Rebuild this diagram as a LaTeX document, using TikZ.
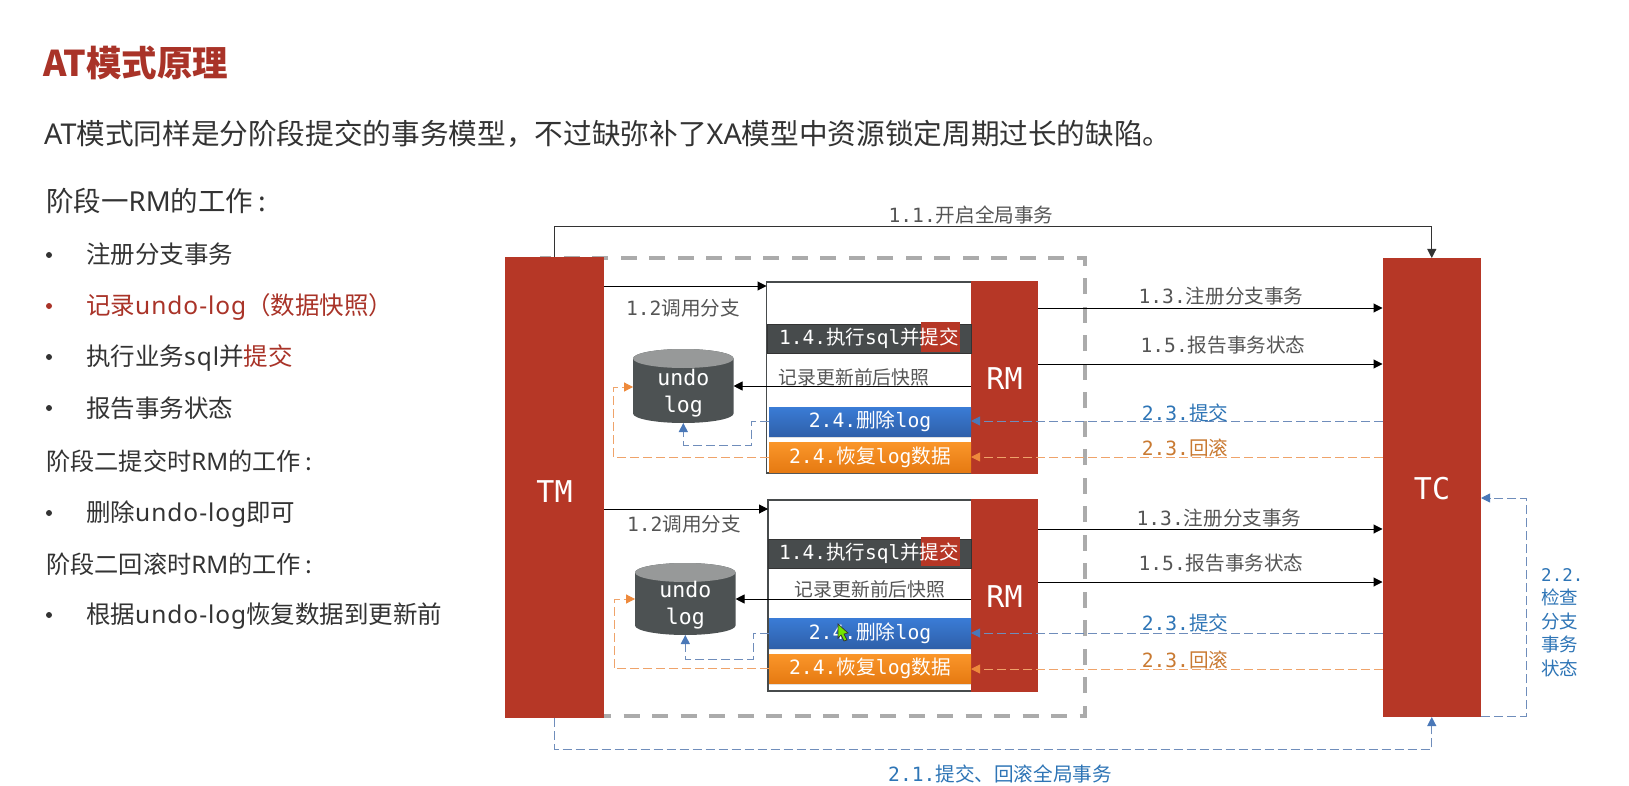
\documentclass[tikz,border=0pt]{standalone}
\usepackage{fontspec}
\setmainfont{Noto Sans CJK SC}
\newfontfamily\monof{DejaVu Sans Mono}
\newfontfamily\latf{Noto Sans}
\newfontfamily\latw[LetterSpace=4]{Noto Sans}
\usetikzlibrary{arrows.meta,calc,shapes.geometric,shadows}
\definecolor{brick}{HTML}{B63726}
\definecolor{titlered}{HTML}{A93328}
\definecolor{bodytxt}{HTML}{333333}
\definecolor{lbl}{HTML}{555555}
\definecolor{lblblue}{HTML}{2E75B6}
\definecolor{lblorange}{HTML}{C97A32}
\definecolor{dashblue}{HTML}{6F8DBB}
\definecolor{tipblue}{HTML}{4A78B8}
\definecolor{dashorange}{HTML}{EFA36A}
\definecolor{tiporange}{HTML}{EE8A3C}
\definecolor{darkbar}{HTML}{474B4C}
\definecolor{cylbody}{HTML}{4D5253}
\definecolor{cyltop}{HTML}{979999}
\definecolor{framegrey}{HTML}{ABABAB}
\definecolor{bluetop}{HTML}{3A7CD6}
\definecolor{bluebot}{HTML}{2F60AA}
\definecolor{orangetop}{HTML}{FA962A}
\definecolor{orangebot}{HTML}{E67A12}
\newcommand\M[1]{{\monof #1}}
\newcommand\Lt[1]{{\latf #1}}
\newcommand\Lw[1]{{\latw #1}}
\newcommand\fs[1]{\fontsize{#1}{#1}\selectfont}
% \bx{name}{x1}{y1}{x2}{y2}{style}{text}
\newcommand\bx[7]{\node[inner sep=0pt,outer sep=0pt,minimum width={(#4-#2)*1pt},minimum height={(#5-#3)*1pt},#6] (#1) at ({(#2+#4)/2},{(#3+#5)/2}) {#7};}
% cylinder painted over the invisible box node #1
\newcommand\cylpaint[1]{%
  \fill[cylbody] ($(#1.north west)+(0,9.5)$) -- ($(#1.south west)+(0,-9.5)$) arc[start angle=180,end angle=360,x radius=50.25pt,y radius=9.5pt] -- ($(#1.north east)+(0,9.5)$) arc[start angle=0,end angle=180,x radius=50.25pt,y radius=9.5pt] -- cycle;
  \fill[cyltop] ($(#1.north)+(0,9.5)$) ellipse[x radius=50.25pt,y radius=9.5pt];}
\tikzset{
  x=1pt,y=-1pt,
  headbig/.style={anchor=west,inner sep=0,text=bodytxt,font=\fs{27.5}},
  heading/.style={anchor=west,inner sep=0,text=bodytxt,font=\fs{24.2}},
  listitem/.style={anchor=west,inner sep=0,text=bodytxt,font=\fs{24.5}},
  bulletdot/.style={anchor=center,circle,fill=bodytxt,inner sep=0,minimum size=6pt},
  brickbox/.style={fill=brick,text=white,font=\fs{30}},
  servicebox/.style={draw=darkbar,line width=1.5pt,fill=white},
  darkbarbox/.style={fill=darkbar,draw=black!80,line width=1pt,text=white,font=\fs{19.5}},
  hilite/.style={fill=brick,text=white,font=\fs{19.5}},
  bluebar/.style={top color=bluetop,bottom color=bluebot,text=white,font=\fs{19.7},drop shadow={opacity=.25,shadow xshift=0pt,shadow yshift=-2pt}},
  orangebar/.style={top color=orangetop,bottom color=orangebot,text=white,font=\fs{19.7},drop shadow={opacity=.25,shadow xshift=0pt,shadow yshift=-2pt}},
  lbltext/.style={inner sep=0,text=lbl,font=\fs{19.6},yshift=-1pt},
  bluelabel/.style={lbltext,text=lblblue},
  orangelabel/.style={lbltext,text=lblorange},
  solidarrow/.style={draw=black,line width=1pt,-{Triangle[length=9pt,width=9pt]}},
  bluedash/.style={draw=dashblue,line width=1pt,dash pattern=on 9pt off 4pt,-{Triangle[length=9pt,width=9pt,color=tipblue,fill=tipblue]}},
  orangedash/.style={draw=dashorange,line width=1pt,dash pattern=on 9pt off 4pt,-{Triangle[length=9pt,width=9pt,color=tiporange,fill=tiporange]}},
  greyframe/.style={draw=framegrey,line width=3.5pt,dash pattern=on 16pt off 12.5pt},
  cylbox/.style={inner sep=0,outer sep=0,minimum width=100.5pt},
}
\begin{document}
\begin{tikzpicture}
\useasboundingbox (0,0) rectangle (1629,786);
\fill[white] (0,0) rectangle (1629,786);

% header text
\node[anchor=west,inner sep=0,text=titlered,font=\bfseries\fs{35.5}] (title) at (43,63) {AT模式原理};
\node[anchor=west,inner sep=0,text=bodytxt,font=\fs{28.65}] (intro) at (44,134) {\Lt{AT}模式同样是分阶段提交的事务模型，不过缺弥补了\Lt{XA}模型中资源锁定周期过长的缺陷。};

% left list
\node[headbig] (h1) at (46,201) {阶段一\Lt{RM}的工作\hspace{5pt}:};
\node[bulletdot] (d1) at (49,255) {}; \node[listitem] (t1) at (86,254) {注册分支事务};
\node[bulletdot,fill=titlered] (d2) at (49,306) {}; \node[listitem,text=titlered] (t2) at (86,307) {记录\Lw{undo-log}（数据快照）};
\node[bulletdot] (d3) at (49,357) {}; \node[listitem] (t3) at (86,358) {执行业务\Lw{sql}并\textcolor{titlered}{提交}};
\node[bulletdot] (d4) at (49,408) {}; \node[listitem] (t4) at (86,408) {报告事务状态};
\node[heading] (h2) at (46,461) {阶段二提交时\Lt{RM}的工作\hspace{5pt}:};
\node[bulletdot] (d5) at (49,513) {}; \node[listitem] (t5) at (86,514) {删除\Lw{undo-log}即可};
\node[heading] (h3) at (46,564) {阶段二回滚时\Lt{RM}的工作\hspace{5pt}:};
\node[bulletdot] (d6) at (49,615) {}; \node[listitem] (t6) at (86,616) {根据\Lw{undo-log}恢复数据到更新前};

% global dashed frame
\coordinate (fa) at (540,258);
\coordinate (fb) at (1085,716);
\draw[greyframe] (fa) rectangle (fb);

% TM / TC
\bx{TM}{505}{257}{604}{718}{brickbox}{}
\bx{TC}{1382.5}{258}{1481}{717}{brickbox}{}
\node[inner sep=0,text=white,font=\fs{30}] (tmtxt) at (554.5,492) {\M{TM}};
\node[inner sep=0,text=white,font=\fs{30}] (tctxt) at (1432,489) {\M{TC}};

% upper service
\bx{S1}{766.5}{282}{972}{473}{servicebox}{}
\bx{RM1}{971}{281}{1038}{474}{brickbox,text depth=0pt}{\raisebox{-2pt}{\M{RM}}}
\bx{D1}{767}{324}{971}{353}{darkbarbox}{}
\bx{H1}{920.5}{322}{960}{352}{hilite}{}
\node[inner sep=0,text=white,font=\fs{19.5},anchor=west] (D1t) at (779,338) {\M{1.4.}执行\M{sql}并提交};
\node[lbltext,font=\fs{18.8}] (rec1) at (854,376) {记录更新前后快照};
\bx{BB1}{769}{407}{971}{436}{bluebar}{\M{2.4.}删除\M{log}}
\bx{OB1}{769}{442}{971}{472}{orangebar}{\M{2.4.}恢复\M{log}数据}
\node[cylbox,minimum height=74pt] (C1) at (683.3,386) {};
\cylpaint{C1}
\node[inner sep=0,text=white,font=\fs{21.5},align=center] (C1t) at (683.3,393) {\M{undo}\\[6pt]\M{log}};

% lower service
\bx{S2}{768}{500}{972}{691}{servicebox}{}
\bx{RM2}{971}{499}{1038}{692}{brickbox,text depth=0pt}{\raisebox{-2pt}{\M{RM}}}
\bx{D2}{768}{539}{971}{568}{darkbarbox}{}
\bx{H2}{920.5}{537}{960}{566}{hilite}{}
\node[inner sep=0,text=white,font=\fs{19.5},anchor=west] (D2t) at (779,553) {\M{1.4.}执行\M{sql}并提交};
\node[lbltext,font=\fs{18.8}] (rec2) at (870,588) {记录更新前后快照};
\bx{BB2}{769}{618}{971}{648}{bluebar}{\M{2.4.}删除\M{log}}
\bx{OB2}{769}{654}{971}{683}{orangebar}{\M{2.4.}恢复\M{log}数据}
\node[cylbox,minimum height=72pt] (C2) at (685.3,599) {};
\cylpaint{C2}
\node[inner sep=0,text=white,font=\fs{21.5},align=center] (C2t) at (685.3,605) {\M{undo}\\[6pt]\M{log}};

% cursor
\filldraw[fill=green!50!yellow!90!black,draw=black!80,line width=.7pt] (838,624) -- (838,638) -- (841,635) -- (844,641) -- (847,640) -- (844,634) -- (848,633) -- cycle;

% global connectors
\draw[solidarrow,draw=black!80] (TM.north) -- ++(0,-30) -| (TC.north);
\draw[bluedash] (TM.south) -- ++(0,31) -| (TC.south);
\draw[bluedash] (TC.east |- 0,716) -- ++(45,0) |- (TC.east |- 0,498);
\node[lbltext] (l11) at (971,214) {\M{1.1.}开启全局事务};
\node[bluelabel] (l21) at (1000,773) {\M{2.1.}提交、回滚全局事务};
\node[bluelabel,anchor=north west,align=left,font=\fs{18.5},yshift=1pt] (l22) at (1541,568) {{\fontsize{17.5}{17.5}\selectfont\M{2.2.}}\\[5pt]检查\\[5pt]分支\\[5pt]事务\\[5pt]状态};

% upper connectors
\draw[solidarrow] (TM.east |- 0,286) -- (S1.west |- 0,286);
\node[lbltext] (l12a) at (683,307) {\M{1.2}调用分支};
\draw[solidarrow] (RM1.west |- 0,386) -- (C1.east |- 0,386);
\draw[solidarrow] (RM1.east |- 0,308) -- (TC.west |- 0,308);
\draw[solidarrow] (RM1.east |- 0,364) -- (TC.west |- 0,364);
\draw[bluedash] (TC.west |- 0,421) -- (RM1.west |- 0,421);
\draw[orangedash] (TC.west |- 0,457) -- (RM1.west |- 0,457);
\draw[bluedash] (BB1.west) -- ++(-18,0) |- ($(C1.south)+(0,22)$) -- (C1.south);
\draw[orangedash] (OB1.west) -- ++(-155.5,0) |- (C1.west |- 0,387);
\node[lbltext] (l13a) at (1221,295) {\M{1.3.}注册分支事务};
\node[lbltext] (l15a) at (1223,344) {\M{1.5.}报告事务状态};
\node[bluelabel] (l23a) at (1185,412) {\M{2.3.}提交};
\node[orangelabel] (l23b) at (1185,447) {\M{2.3.}回滚};

% lower connectors
\draw[solidarrow] (TM.east |- 0,509) -- (S2.west |- 0,509);
\node[lbltext] (l12b) at (684,523) {\M{1.2}调用分支};
\draw[solidarrow] (RM2.west |- 0,599) -- (C2.east |- 0,599);
\draw[solidarrow] (RM2.east |- 0,529) -- (TC.west |- 0,529);
\draw[solidarrow] (RM2.east |- 0,582) -- (TC.west |- 0,582);
\draw[bluedash] (TC.west |- 0,633) -- (RM2.west |- 0,633);
\draw[orangedash] (TC.west |- 0,669) -- (RM2.west |- 0,669);
\draw[bluedash] (BB2.west) -- ++(-16,0) |- ($(C2.south)+(0,24)$) -- (C2.south);
\draw[orangedash] (OB2.west) -- ++(-155,0) |- (C2.west |- 0,599);
\node[lbltext] (l13b) at (1219,517) {\M{1.3.}注册分支事务};
\node[lbltext] (l15b) at (1221,562) {\M{1.5.}报告事务状态};
\node[bluelabel] (l23c) at (1185,622) {\M{2.3.}提交};
\node[orangelabel] (l23d) at (1185,659) {\M{2.3.}回滚};
\end{tikzpicture}
\end{document}
